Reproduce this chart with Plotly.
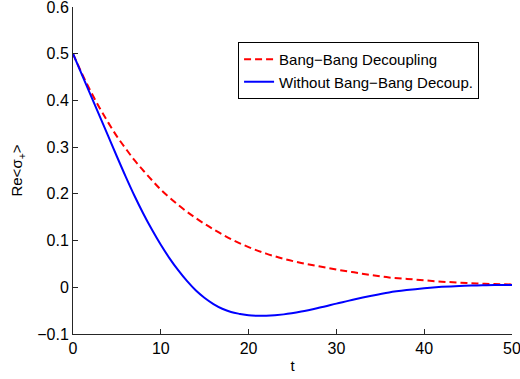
import plotly.graph_objects as go

# Bang-Bang Decoupling (red dashed)
t_bb = [0, 1, 2, 3, 4, 5, 6, 7, 8, 9, 10, 12, 14, 16, 18, 20, 22, 24, 26, 28, 30,
        32, 34, 36, 38, 40, 42, 44, 46, 48, 50]
v_bb = [0.5, 0.458, 0.42, 0.385, 0.353, 0.323, 0.297, 0.272, 0.25, 0.229, 0.209,
        0.176, 0.148, 0.124, 0.103, 0.086, 0.072, 0.061, 0.052, 0.045, 0.038,
        0.032, 0.026, 0.021, 0.018, 0.015, 0.012, 0.010, 0.008, 0.007, 0.006]

# Without Bang-Bang Decoupling (blue solid)
t_wo = [0, 1, 2, 3, 4, 5, 6, 7, 8, 9, 10, 11, 12, 13, 14, 15, 16, 17, 18, 19, 20,
        21, 22, 24, 26, 28, 30, 32, 34, 36, 38, 40, 42, 44, 46, 48, 50]
v_wo = [0.5, 0.456, 0.412, 0.368, 0.324, 0.280, 0.237, 0.196, 0.158, 0.123, 0.091,
        0.062, 0.036, 0.013, -0.007, -0.023, -0.036, -0.046, -0.053, -0.057, -0.060,
        -0.061, -0.061, -0.058, -0.052, -0.044, -0.035, -0.026, -0.018, -0.011,
        -0.006, -0.002, 0.001, 0.003, 0.004, 0.005, 0.005]

names = ["Bang\u2212Bang Decoupling", "Without Bang\u2212Bang Decoup."]
x_ticks = [0, 10, 20, 30, 40, 50]
y_ticks = [-0.1, 0, 0.1, 0.2, 0.3, 0.4, 0.5, 0.6]
y_ticklabels = ["\u22120.1", "0", "0.1", "0.2", "0.3", "0.4", "0.5", "0.6"]

fig = go.Figure()
fig.add_trace(go.Scatter(x=t_bb, y=v_bb, mode="lines", name=names[0],
                         line=dict(color="#ff0000", width=2, dash="7px,4px", shape="spline", smoothing=1.0)))
fig.add_trace(go.Scatter(x=t_wo, y=v_wo, mode="lines", name=names[1],
                         line=dict(color="#0000ff", width=2, shape="spline", smoothing=1.0)))

fam = "Liberation Sans, Arial, sans-serif"
tickfont = dict(family=fam, size=16, color="#000000")
titlefont = dict(family=fam, size=15, color="#000000")
fig.update_layout(
    width=520, height=379,
    margin=dict(l=73, r=8, t=7, b=45, autoexpand=False),
    paper_bgcolor="white", plot_bgcolor="white",
    font=titlefont,
    showlegend=True,
    legend=dict(x=0.376, y=0.893, xanchor="left", yanchor="top",
                bgcolor="white", bordercolor="black", borderwidth=1,
                font=dict(family=fam, size=15, color="#000000"),
                tracegroupgap=0, itemwidth=30),
    xaxis=dict(range=[0, 50], tickvals=x_ticks, ticks="inside", ticklen=5,
               ticklabeloverflow="allow", automargin=False,
               tickcolor="#262626", showline=True, linecolor="#262626", linewidth=1,
               showgrid=False, zeroline=False, mirror=False, tickfont=tickfont,
               title=dict(text="t", standoff=4, font=titlefont)),
    yaxis=dict(range=[-0.1, 0.6], tickvals=y_ticks, ticktext=y_ticklabels,
               ticks="inside", ticklen=5, ticklabeloverflow="allow", automargin=False,
               tickcolor="#262626", showline=True, linecolor="#262626", linewidth=1,
               showgrid=False, zeroline=False, mirror=False, tickfont=tickfont,
               title=dict(text="Re<\u03c3<sub>+</sub>>", standoff=10, font=titlefont)),
)

fig.write_html("out.html")
